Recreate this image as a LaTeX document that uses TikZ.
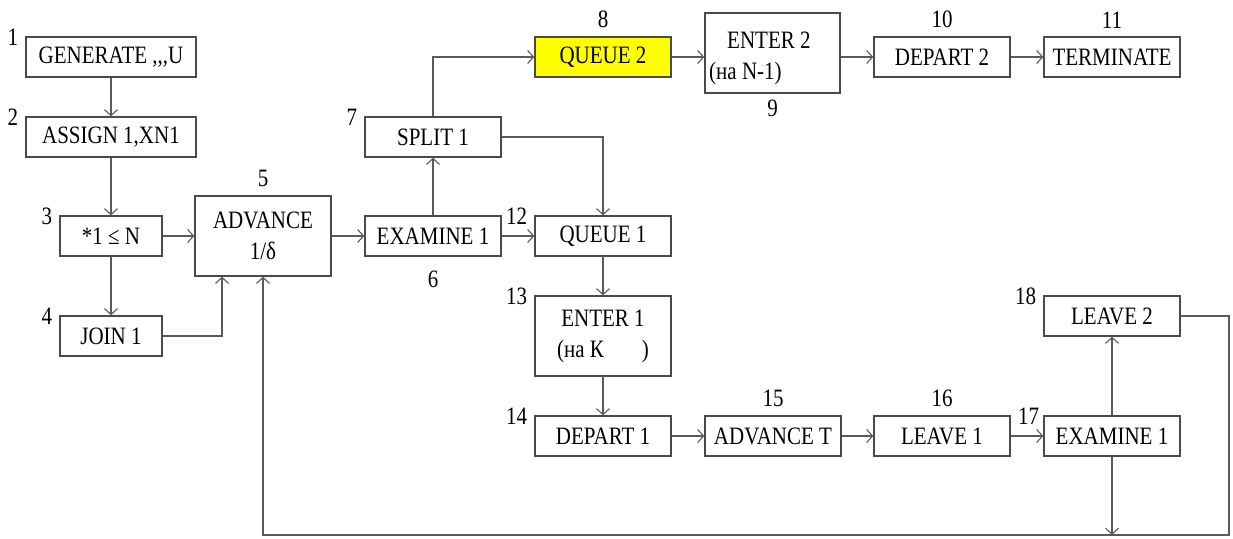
\documentclass[tikz,border=0pt]{standalone}
\usepackage{fontspec}
\setmainfont{Liberation Serif}[FakeStretch=0.84,Ligatures=NoCommon]
\usetikzlibrary{arrows.meta,calc}
\definecolor{ln}{HTML}{5A5A5A}
\definecolor{bx}{HTML}{4A4A4A}
\definecolor{yel}{HTML}{FFFF00}
\begin{document}
\begin{tikzpicture}[x=1pt,y=-1pt,
  every node/.style={font=\fontsize{25}{31}\selectfont},
  blk/.style={draw=bx,line width=1.3pt,inner sep=0pt,minimum width=136pt,minimum height=40pt,align=center},
  tall/.style={blk,minimum height=80pt},
  num/.style={inner sep=0pt},
  arr/.style={draw=ln,line width=1.1pt,-{Straight Barb[length=6pt,width=13pt]}},
  ln/.style={draw=ln,line width=1.1pt}]
\useasboundingbox (0,0) rectangle (1233,538);
% blocks
\node[blk,minimum width=170pt] (gen) at (111,57) {GENERATE ,{},{},U};
\node[blk,minimum width=170pt] (asg) at (111,137) {ASSIGN 1,XN1};
\node[blk,minimum width=102pt] (cmp) at (111,236) {*1 ≤ N};
\node[blk,minimum width=102pt] (join) at (111,336) {JOIN 1};
\node[tall] (adv) at (263,236) {ADVANCE\\1/δ};
\node[blk] (ex6) at (433,236) {EXAMINE 1};
\node[blk] (split) at (433,137) {SPLIT 1};
\node[blk,fill=yel] (q2) at (603,57) {QUEUE 2};
\node[tall,minimum width=135pt] (en2) at (772.5,53) {};
\node[inner sep=0pt,align=flush left,anchor=west] (en2t) at (709,58) {\hspace*{18pt}ENTER 2\\(на N-1)};
\node[blk] (dep2) at (942,57) {DEPART 2};
\node[blk] (term) at (1112,57) {TERMINATE};
\node[blk] (q1) at (603,236) {QUEUE 1};
\node[tall] (en1) at (603,336) {ENTER 1\\(на К\hspace{38pt})};
\node[blk] (dep1) at (603,436) {DEPART 1};
\node[blk] (advt) at (773,436) {ADVANCE T};
\node[blk] (lv1) at (942,436) {LEAVE 1};
\node[blk] (ex17) at (1112,436) {EXAMINE 1};
\node[blk] (lv2) at (1112,316) {LEAVE 2};
\coordinate (br) at (1229,535);
% numbers
\node[num,anchor=east] (n1) at ([xshift=-7pt,yshift=-1pt]gen.north west) {1};
\node[num,anchor=east] (n2) at ([xshift=-7pt,yshift=-1pt]asg.north west) {2};
\node[num,anchor=east] (n3) at ([xshift=-7pt,yshift=-1pt]cmp.north west) {3};
\node[num,anchor=east] (n4) at ([xshift=-7pt,yshift=-1pt]join.north west) {4};
\node[num,anchor=south] (n5) at ([yshift=8pt]adv.north) {5};
\node[num,anchor=north] (n6) at ([yshift=-14pt]ex6.south) {6};
\node[num,anchor=east] (n7) at ([xshift=-7pt,yshift=-1pt]split.north west) {7};
\node[num,anchor=south] (n8) at ([yshift=8pt]q2.north) {8};
\node[num,anchor=north] (n9) at ([yshift=-6pt]en2.south) {9};
\node[num,anchor=south] (n10) at ([yshift=8pt]dep2.north) {10};
\node[num,anchor=south] (n11) at ([yshift=8pt]term.north) {11};
\node[num,anchor=east] (n12) at ([xshift=-7pt,yshift=-1pt]q1.north west) {12};
\node[num,anchor=east] (n13) at ([xshift=-7pt,yshift=-1pt]en1.north west) {13};
\node[num,anchor=east] (n14) at ([xshift=-7pt,yshift=-1pt]dep1.north west) {14};
\node[num,anchor=south] (n15) at ([yshift=8pt]advt.north) {15};
\node[num,anchor=south] (n16) at ([yshift=8pt]lv1.north) {16};
\node[num,anchor=east] (n17) at ([xshift=-4pt,yshift=-1pt]ex17.north west) {17};
\node[num,anchor=east] (n18) at ([xshift=-7pt,yshift=-1pt]lv2.north west) {18};
% connectors
\draw[arr] (gen) -- (asg);
\draw[arr] (asg) -- (cmp);
\draw[arr] (cmp) -- (join);
\draw[arr] (cmp) -- (adv);
\draw[arr] (join.east) -| ([xshift=-41pt]adv.south);
\draw[arr] (adv) -- (ex6);
\draw[arr] (ex6) -- (split);
\draw[arr] (ex6) -- (q1);
\draw[arr] (split.north) |- (q2.west);
\draw[arr] (split.east) -| (q1.north);
\draw[arr] (q2.east) -- (q2.east -| en2.west);
\draw[arr] (en2.east |- dep2) -- (dep2.west);
\draw[arr] (dep2) -- (term);
\draw[arr] (q1) -- (en1);
\draw[arr] (en1) -- (dep1);
\draw[arr] (dep1) -- (advt);
\draw[arr] (advt) -- (lv1);
\draw[arr] (lv1) -- (ex17);
\draw[arr] (ex17) -- (lv2);
\draw[arr] (ex17.south) -- (ex17.south |- br);
\draw[arr] (lv2.east) -| (br) -| (adv.south);
\end{tikzpicture}
\end{document}
